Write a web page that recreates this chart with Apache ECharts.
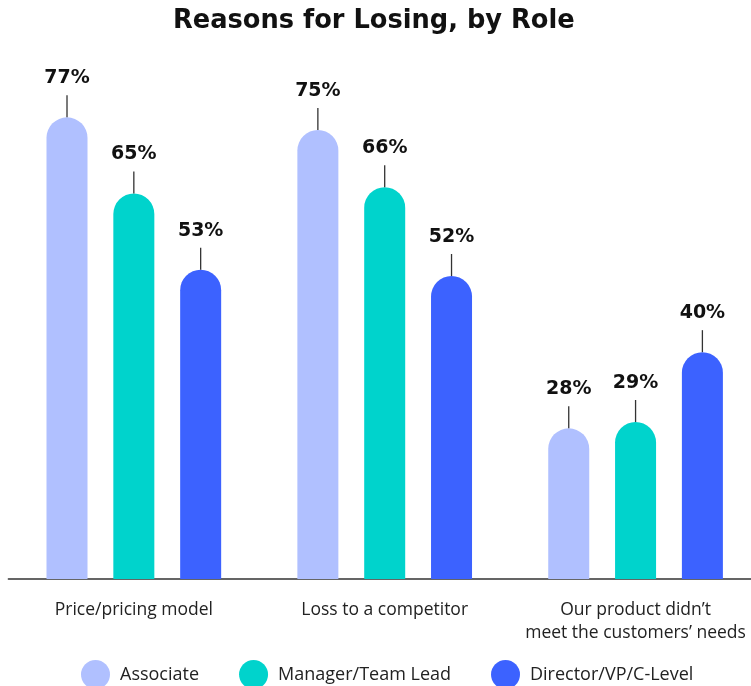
<!DOCTYPE html>
<html>
<head>
<meta charset="utf-8">
<script src="https://cdn.jsdelivr.net/npm/echarts@6/dist/echarts.min.js"></script>
<style>
html,body{margin:0;padding:0;background:#fff;overflow:hidden;}
#main{width:761px;height:686px;}
</style>
</head>
<body>
<div id="main"></div>
<script>
var categories = ['Price/pricing model', 'Loss to a competitor', 'Our product didn\u2019t\nmeet the customers\u2019 needs'];
var roles = ['Associate', 'Manager/Team Lead', 'Director/VP/C-Level'];
var associate = [77, 75, 28];
var manager = [65, 66, 29];
var director = [53, 52, 40];
var colors = ['#b0c0ff', '#00d3cc', '#3c62ff'];

var BOLD = 'DejaVu Sans';
var REG = 'Open Sans';
var seriesData = [associate, manager, director];

var chart = echarts.init(document.getElementById('main'));

var series = seriesData.map(function (d, i) {
  return {
    name: roles[i],
    type: 'bar',
    data: d,
    barWidth: 41,
    barGap: '63%',
    itemStyle: { color: colors[i], borderRadius: [20.5, 20.5, 0, 0] },
    label: {
      show: true,
      position: 'top',
      distance: 0,
      formatter: function (p) { return '{v|' + p.value + '%}\n{l|}'; },
      rich: {
        v: { fontFamily: BOLD, fontWeight: 'bold', fontSize: 19, color: '#111', lineHeight: 34, align: 'center' },
        l: { width: 1.3, height: 22, backgroundColor: '#333', align: 'center' }
      }
    }
  };
});

chart.setOption({
  animation: false,
  title: {
    text: 'Reasons for Losing, by Role',
    left: 168,
    top: 3,
    textStyle: { fontFamily: BOLD, fontWeight: 'bold', fontSize: 25.7, color: '#111' }
  },
  legend: {
    data: roles,
    left: 76,
    top: 655,
    icon: 'circle',
    itemWidth: 29,
    itemHeight: 29,
    itemGap: 40,
    textStyle: { fontFamily: REG, fontSize: 18, color: '#222', padding: [0, 0, 0, 5] }
  },
  grid: { left: 8.4, right: 0, top: 98.3, bottom: 107, containLabel: false },
  xAxis: {
    type: 'category',
    data: categories,
    axisLine: { lineStyle: { color: '#333', width: 1.5 } },
    axisTick: { show: false },
    axisLabel: { interval: 0, fontFamily: REG, fontSize: 17.5, color: '#222', margin: 20, lineHeight: 23 }
  },
  yAxis: {
    type: 'value',
    min: 4.26,
    max: 80,
    show: false,
    splitLine: { show: false }
  },
  series: series
});
</script>
</body>
</html>
